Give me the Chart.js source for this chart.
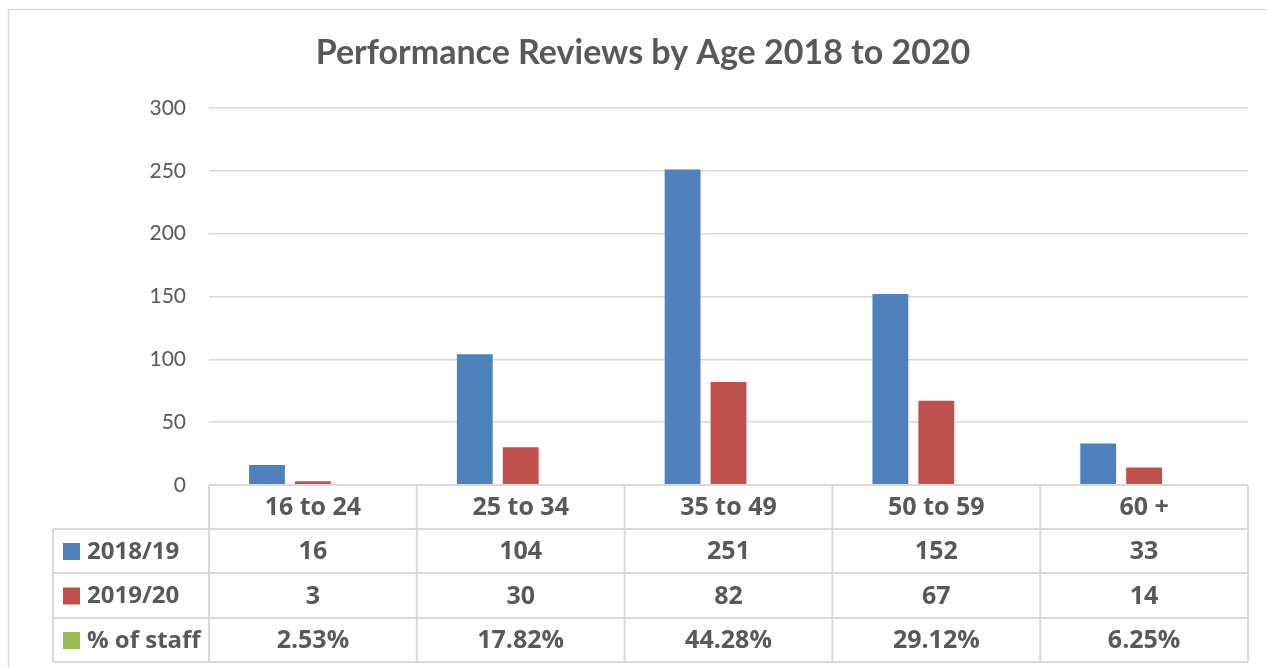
<!DOCTYPE html>
<html>
<head>
<meta charset="utf-8">
<script src="https://cdn.jsdelivr.net/npm/chart.js@4.4.1/dist/chart.umd.min.js"></script>
<style>
    html, body { margin: 0; padding: 0; background: #fff; overflow: hidden; }
    #wrap { position: relative; width: 1267px; height: 668px; }
</style>
</head>
<body>
<div id="wrap"><canvas id="reviewsChart" width="1267" height="668"></canvas></div>
<script>
// Dados do gráfico
const ageGroups = ['16 to 24', '25 to 34', '35 to 49', '50 to 59', '60 +'];
const reviews1819 = [16, 104, 251, 152, 33];
const reviews1920 = [3, 30, 82, 67, 14];
const staffPercent = [2.53, 17.82, 44.28, 29.12, 6.25];
const seriesNames = ['2018/19', '2019/20', '% of staff'];
const yTicks = [0, 50, 100, 150, 200, 250, 300];
const chartTitle = 'Performance Reviews by Age 2018 to 2020';

const colors = ['#4F81BD', '#C0504D', '#9BBB59'];
const textColor = '#595959';
const lineColor = '#D9D9D9';
const fontFamily = 'Lato, "Open Sans", sans-serif';
const tableFont = '"Open Sans", Lato, sans-serif';

// Moldura cinza e título
const framePlugin = {
    id: 'frame',
    beforeDraw(chart) {
        const ctx = chart.ctx;
        ctx.save();
        ctx.strokeStyle = lineColor;
        ctx.lineWidth = 1.5;
        ctx.beginPath();
        ctx.moveTo(8.5, 668);
        ctx.lineTo(8.5, 9.5);
        ctx.lineTo(1267, 9.5);
        ctx.stroke();

        ctx.fillStyle = textColor;
        ctx.font = '700 34px ' + fontFamily;
        ctx.textAlign = 'center';
        ctx.textBaseline = 'middle';
        ctx.fillText(chartTitle, 643, 53);
        ctx.restore();
    }
};

// Tabela de dados abaixo do gráfico
const dataTablePlugin = {
    id: 'dataTable',
    afterDraw(chart) {
        const ctx = chart.ctx;
        const area = chart.chartArea;
        const x = chart.scales.x;
        const n = ageGroups.length;
        const catW = (area.right - area.left) / n;
        const rows = [area.bottom, 529, 573, 618, 662];
        const legendLeft = 53;
        const rowValues = [
            reviews1819.map(v => String(v)),
            reviews1920.map(v => String(v)),
            staffPercent.map(v => v.toFixed(2) + '%')
        ];

        ctx.save();
        ctx.strokeStyle = lineColor;
        ctx.lineWidth = 2;
        ctx.beginPath();
        // linhas horizontais
        ctx.moveTo(area.left, rows[0]);
        ctx.lineTo(area.right, rows[0]);
        for (let r = 1; r < rows.length; r++) {
            ctx.moveTo(legendLeft, rows[r]);
            ctx.lineTo(area.right, rows[r]);
        }
        // linhas verticais
        ctx.moveTo(legendLeft, rows[1]);
        ctx.lineTo(legendLeft, rows[4]);
        for (let i = 0; i <= n; i++) {
            const px = area.left + i * catW;
            ctx.moveTo(px, rows[0]);
            ctx.lineTo(px, rows[4]);
        }
        ctx.stroke();

        ctx.fillStyle = textColor;
        ctx.textAlign = 'center';
        ctx.textBaseline = 'middle';
        ctx.font = '700 25px ' + tableFont;
        ageGroups.forEach((label, i) => {
            ctx.fillText(label, x.getPixelForValue(i), (rows[0] + rows[1]) / 2 + 1);
        });
        rowValues.forEach((vals, r) => {
            const cy = (rows[r + 1] + rows[r + 2]) / 2 + 1;
            ctx.font = '700 25px ' + tableFont;
            vals.forEach((v, i) => {
                ctx.fillText(v, x.getPixelForValue(i), cy);
            });
            // legenda
            ctx.fillStyle = colors[r];
            ctx.fillRect(63, cy - 9, 17, 17);
            ctx.fillStyle = textColor;
            ctx.textAlign = 'left';
            ctx.font = '700 24px ' + tableFont;
            ctx.fillText(seriesNames[r], 87, cy);
            ctx.textAlign = 'center';
        });
        ctx.restore();
    }
};

document.addEventListener('DOMContentLoaded', function() {
    const ctx = document.getElementById('reviewsChart').getContext('2d');
    new Chart(ctx, {
        type: 'bar',
        data: {
            labels: ageGroups,
            datasets: [
                { label: seriesNames[0], data: reviews1819, backgroundColor: colors[0] },
                { label: seriesNames[1], data: reviews1920, backgroundColor: colors[1] },
                { label: seriesNames[2], data: staffPercent.map(v => v / 100), backgroundColor: colors[2] }
            ]
        },
        options: {
            responsive: false,
            animation: false,
            categoryPercentage: 0.663,
            barPercentage: 0.78,
            layout: {
                padding: { left: 0, right: 19, top: 108, bottom: 183 }
            },
            scales: {
                x: {
                    display: false
                },
                y: {
                    min: 0,
                    max: 300,
                    afterFit: function(scale) { scale.width = 209; },
                    afterBuildTicks: function(scale) {
                        scale.ticks = yTicks.map(v => ({ value: v }));
                    },
                    border: { display: false },
                    grid: { color: lineColor, lineWidth: 1.5, drawTicks: false },
                    ticks: {
                        padding: 23,
                        color: textColor,
                        font: { family: fontFamily, size: 21 }
                    }
                }
            },
            plugins: {
                legend: { display: false },
                tooltip: { enabled: false },
                title: { display: false }
            }
        },
        plugins: [framePlugin, dataTablePlugin]
    });
});
</script>
</body>
</html>
